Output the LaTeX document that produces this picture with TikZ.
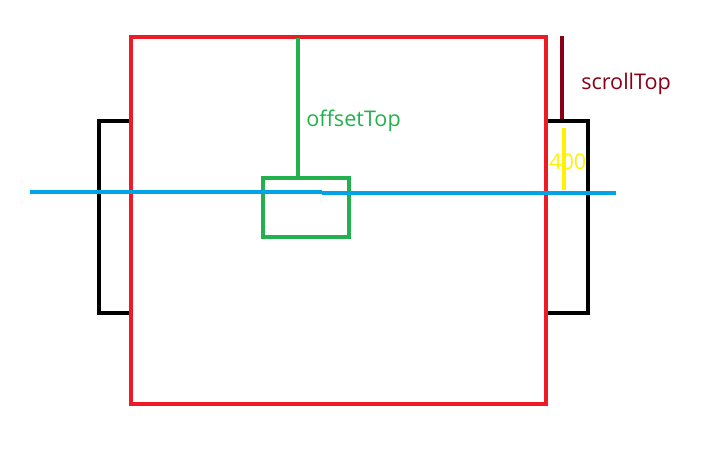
\documentclass[tikz,border=0pt]{standalone}
\usepackage{fontspec}
\setmainfont{Open Sans}
\usetikzlibrary{positioning}
\definecolor{paintred}{RGB}{237, 28, 36}
\definecolor{paintgreen}{RGB}{34, 177, 76}
\definecolor{paintblue}{RGB}{0, 162, 232}
\definecolor{paintmaroon}{RGB}{136, 0, 21}
\definecolor{paintyellow}{RGB}{255, 242, 0}
\tikzset{
  stroke/.style={line width=3pt, line cap=butt},
  label/.style={font=\fontsize{16.2}{19}\selectfont, inner sep=0pt, anchor=west}
}
\begin{document}
\begin{tikzpicture}[x=0.75pt, y=0.75pt]
  \useasboundingbox[fill=white] (0,0) rectangle (701,453);

  % outer box behind the page
  \draw[stroke, black] (99,332) rectangle (588,140);
  \draw[fill=white, draw=paintred, line width=2.6pt] (131,416) rectangle (546,49);

  % element and its offset
  \coordinate (pagetop) at (298,415);
  \draw[stroke, paintgreen] (263,275) rectangle (349,216);
  \draw[stroke, paintgreen] (pagetop) -- (298,275);
  \node[label, text=paintgreen] (offsetlbl) at (306,332) {offsetTop};

  % viewport line
  \draw[stroke, paintblue] (30,261) -- (322,261);
  \draw[stroke, paintblue] (322,260) -- (616,260);

  % scroll amount
  \draw[stroke, paintmaroon] (562,417) -- (562,334);
  \node[label, text=paintmaroon] (scrolllbl) at (581,369) {scrollTop};
  \node[label, text=paintyellow] (valuelbl) at (549,291) {400};
  \draw[stroke, paintyellow] (564,325) -- (564,263);

\end{tikzpicture}
\end{document}
